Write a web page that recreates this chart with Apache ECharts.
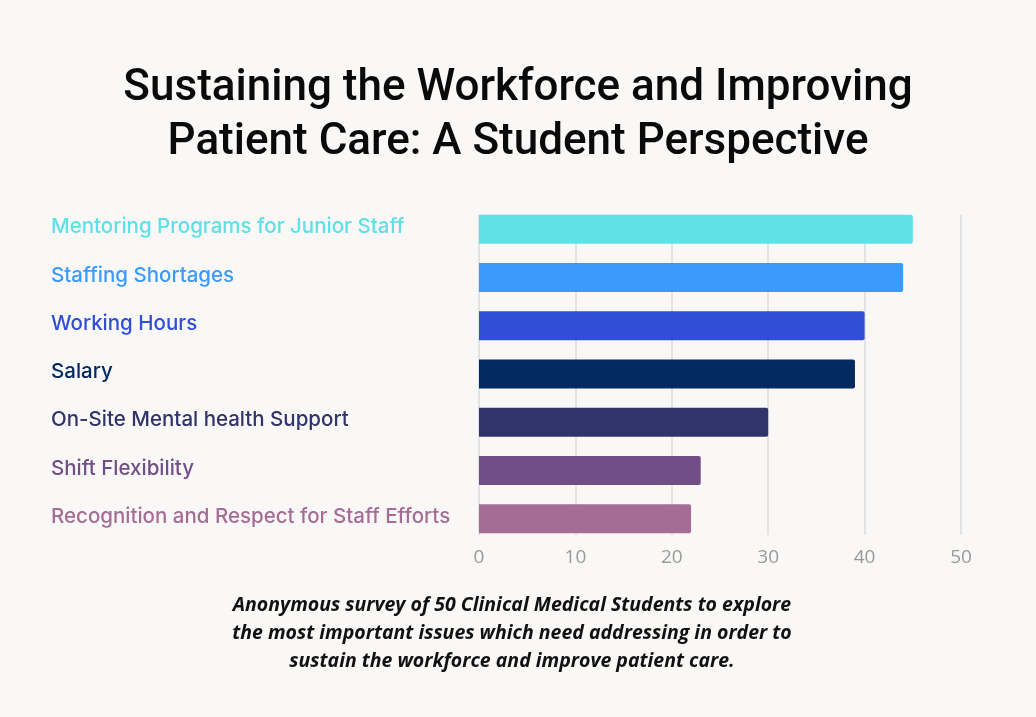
<!DOCTYPE html>
<html>
<head>
<meta charset="utf-8">
<script src="https://cdn.jsdelivr.net/npm/echarts@6/dist/echarts.min.js"></script>
<style>
  html, body { margin: 0; padding: 0; background: #f9f8f7; }
  #chart { width: 1036px; height: 717px; }
</style>
</head>
<body>
<div id="chart"></div>
<script>
const categories = [
  'Mentoring Programs for Junior Staff',
  'Staffing Shortages',
  'Working Hours',
  'Salary',
  'On-Site Mental health Support',
  'Shift Flexibility',
  'Recognition and Respect for Staff Efforts'
];
const responses = [45, 44, 40, 39, 30, 23, 22];
const barColors = ['#5ee0e6', '#3a9bfc', '#304fd6', '#002a60', '#30346a', '#724e87', '#a56d96'];
const xTicks = [0, 10, 20, 30, 40, 50];

const GRID_LEFT = 479;
const GRID_RIGHT = 75;

const chart = echarts.init(document.getElementById('chart'));

const option = {
  backgroundColor: '#f9f8f7',
  title: {
    text: 'Sustaining the Workforce and Improving\nPatient Care: A Student Perspective',
    left: 'center',
    top: 57,
    textStyle: {
      fontFamily: 'Roboto',
      fontWeight: 500,
      fontSize: 44,
      lineHeight: 54,
      color: '#0a0a0a'
    }
  },
  graphic: [
    {
      type: 'text',
      x: 512,
      y: 591,
      style: {
        text: 'Anonymous survey of 50 Clinical Medical Students to explore\nthe most important issues which need addressing in order to\nsustain the workforce and improve patient care.',
        align: 'center',
        verticalAlign: 'top',
        font: 'italic bold 19.5px "Open Sans"',
        lineHeight: 28,
        fill: '#111'
      }
    }
  ],
  grid: [
    // gridlines only, spanning the bars
    { left: GRID_LEFT, right: GRID_RIGHT, top: 215, height: 320 },
    // bars
    { left: GRID_LEFT, right: GRID_RIGHT, top: 205, height: 338 }
  ],
  xAxis: [
    {
      gridIndex: 0,
      type: 'value',
      min: 0,
      max: 50,
      interval: 10,
      axisLine: { show: false },
      axisTick: { show: false },
      axisLabel: {
        margin: 13,
        fontFamily: 'Open Sans',
        fontSize: 19,
        color: '#9a9a9a',
        formatter: v => (xTicks.includes(v) ? String(v) : '')
      },
      splitLine: { show: true, lineStyle: { color: '#dcdcdc', width: 1.5 } }
    },
    {
      gridIndex: 1,
      type: 'value',
      min: 0,
      max: 50,
      interval: 10,
      show: false
    }
  ],
  yAxis: [
    {
      gridIndex: 0,
      type: 'category',
      data: categories,
      show: false
    },
    {
      gridIndex: 1,
      type: 'category',
      data: categories,
      inverse: true,
      axisLine: { show: false },
      axisTick: { show: false },
      axisLabel: {
        align: 'left',
        verticalAlign: 'bottom',
        lineHeight: 4,
        margin: GRID_LEFT - 51,
        fontFamily: 'Inter',
        fontSize: 20.5,
        fontWeight: 500,
        color: (value, idx) => barColors[idx]
      }
    }
  ],
  series: [
    {
      type: 'bar',
      xAxisIndex: 1,
      yAxisIndex: 1,
      barWidth: 29,
      data: responses.map((v, i) => ({
        value: v,
        itemStyle: { color: barColors[i], borderRadius: [0, 2, 2, 0] }
      })),
      z: 3
    }
  ]
};

chart.setOption(option);
</script>
</body>
</html>
